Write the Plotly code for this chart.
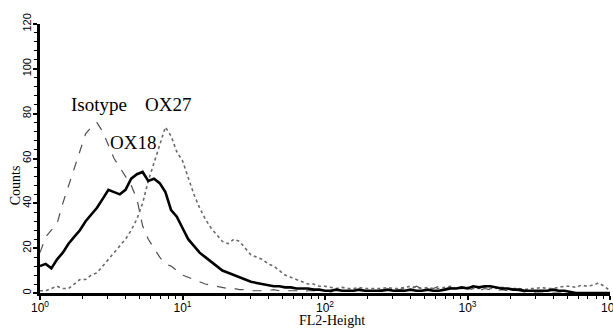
import numpy as np
import plotly.graph_objects as go

# channel bins on log scale (FL2-Height), 0.04 decade steps from 10^0 to 10^4
log_pos = [round(i * 0.04, 2) for i in range(101)]
fl2 = [10 ** v for v in log_pos]

ox18 = [12, 13, 11, 15, 18, 22, 25, 28, 32, 35,
        38, 42, 46, 45, 44, 46, 51, 53, 54, 50,
        51, 49, 45, 37, 34, 29, 24, 21, 18, 16,
        14, 12, 10, 9, 8, 7, 6, 5, 4.5, 4,
        3.5, 3, 3, 2.5, 2.5, 2, 2, 2, 1.5, 1.5,
        1, 1, 1.5, 1, 1, 1, 1.5, 1, 1, 1,
        1, 1.5, 1, 1, 1, 1.5, 1, 1, 1.5, 1,
        1, 1.5, 2, 2, 2.5, 2, 3, 2.5, 3, 3,
        2.5, 2, 2, 1.5, 1.5, 1, 1, 1, 1, 1,
        1.5, 1, 1, 0.5, 0, 0, 0, 0, 0, 0,
        0]

isotype = [18, 25, 28, 31, 40, 48, 56, 64, 71, 74,
           76, 72, 66, 60, 56, 52, 48, 42, 30, 24,
           20, 16, 13, 12, 10, 8, 7, 6, 5, 4,
           3.5, 3, 2.5, 2, 2, 1.5, 1.5, 1, 1, 1,
           1, 1.5, 1, 1, 1, 1, 0.5, 1, 1, 1,
           1, 0.5, 1, 1, 1, 1.5, 1, 1, 1, 1,
           1.5, 1, 1, 1.5, 2, 1.5, 3, 2, 1.5, 2,
           3, 2, 2.5, 2, 3, 2, 1.5, 1, 2, 1.5,
           1, 1.5, 1, 1, 1, 0.5, 0.5, 0, 0, 0,
           0, 0, 0, 0, 0, 0, 0, 0, 0, 0,
           0]

ox27 = [1, 1, 2, 3, 2, 2, 4, 6, 6, 8,
        9, 12, 15, 18, 21, 24, 28, 33, 40, 50,
        58, 66, 74, 70, 63, 59, 51, 44, 38, 33,
        29, 26, 23, 22, 24, 23, 20, 17, 16, 15,
        13, 12, 10, 8, 7, 6, 5, 4, 4, 3,
        3, 2.5, 2, 2.5, 2, 2, 2.5, 2, 2, 2,
        2, 2.5, 2, 2, 2.5, 3, 2.5, 2, 2.5, 2,
        2, 2.5, 3, 2, 2, 2.5, 2, 2, 2.5, 2,
        2, 2.5, 2, 2, 2, 1.5, 2, 2, 2.5, 2,
        2, 2.5, 3, 3, 2.5, 3.5, 3, 3.5, 4.5, 3,
        1]

y_ticks = [0, 20, 40, 60, 80, 100, 120]
x_tickvals = [1, 10, 100, 1000, 10000]
x_ticktext = ["10<sup>0</sup>", "10<sup>1</sup>", "10<sup>2</sup>", "10<sup>3</sup>", "10<sup>4</sup>"]

serif = "Liberation Serif, Times New Roman, serif"
sans = "Liberation Sans, Arial, sans-serif"

fig = go.Figure()
fig.add_trace(go.Scatter(x=fl2, y=isotype, mode="lines", name="Isotype",
                         line=dict(color="#505050", width=1.2, dash="dash")))
fig.add_trace(go.Scatter(x=fl2, y=ox27, mode="lines", name="OX27",
                         line=dict(color="#6a6a6a", width=1.6, dash="dot")))
fig.add_trace(go.Scatter(x=fl2, y=ox18, mode="lines", name="OX18",
                         line=dict(color="#000000", width=2.6)))

labels = [("Isotype", 0.414, 84), ("OX27", 0.898, 84), ("OX18", 0.653, 67)]
for txt, lx, ly in labels:
    fig.add_annotation(x=lx, y=ly, text=txt, showarrow=False,
                       font=dict(family=serif, size=19, color="#000"))

# axis titles
fig.add_annotation(xref="paper", yref="paper", x=0.512, y=-0.104,
                   text="FL2-Height", showarrow=False, yanchor="middle",
                   font=dict(family=serif, size=14, color="#000"))
fig.add_annotation(xref="paper", yref="paper", x=-0.044, y=0.40,
                   text="Counts", showarrow=False, textangle=-90,
                   xanchor="center", yanchor="middle",
                   font=dict(family=serif, size=14, color="#000"))

fig.update_layout(
    width=613, height=329,
    margin=dict(l=40, r=3, t=24, b=36, autoexpand=False),
    paper_bgcolor="white", plot_bgcolor="white",
    showlegend=False,
    font=dict(family=sans, size=12, color="#000"),
)
fig.update_xaxes(
    type="log", range=[0, 4], automargin=False,
    showgrid=False, zeroline=False,
    showline=True, linecolor="black", linewidth=2.5,
    ticks="outside", ticklen=4, tickwidth=1.5, tickcolor="black",
    tickvals=x_tickvals, ticktext=x_ticktext,
    ticklabeloverflow="allow", ticklabelstandoff=-2,
    minor=dict(ticks="outside", ticklen=3, tickwidth=1, tickcolor="black",
               tickvals=[m * 10 ** d for d in range(4) for m in range(2, 10)]),
    tickfont=dict(family=sans, size=12),
)
fig.update_yaxes(
    range=[0, 120], automargin=False,
    showgrid=False, zeroline=False,
    showline=True, linecolor="black", linewidth=2.5,
    ticks="outside", ticklen=4, tickwidth=1.5, tickcolor="black",
    tickvals=y_ticks, tickangle=-90, ticklabelstandoff=-2,
    minor=dict(ticks="outside", ticklen=3, tickwidth=1, tickcolor="black", dtick=4),
    tickfont=dict(family=sans, size=11),
)

fig.write_html("out.html", config={"displayModeBar": False},
               post_script="document.body.style.margin='0';document.body.style.overflow='hidden';")
